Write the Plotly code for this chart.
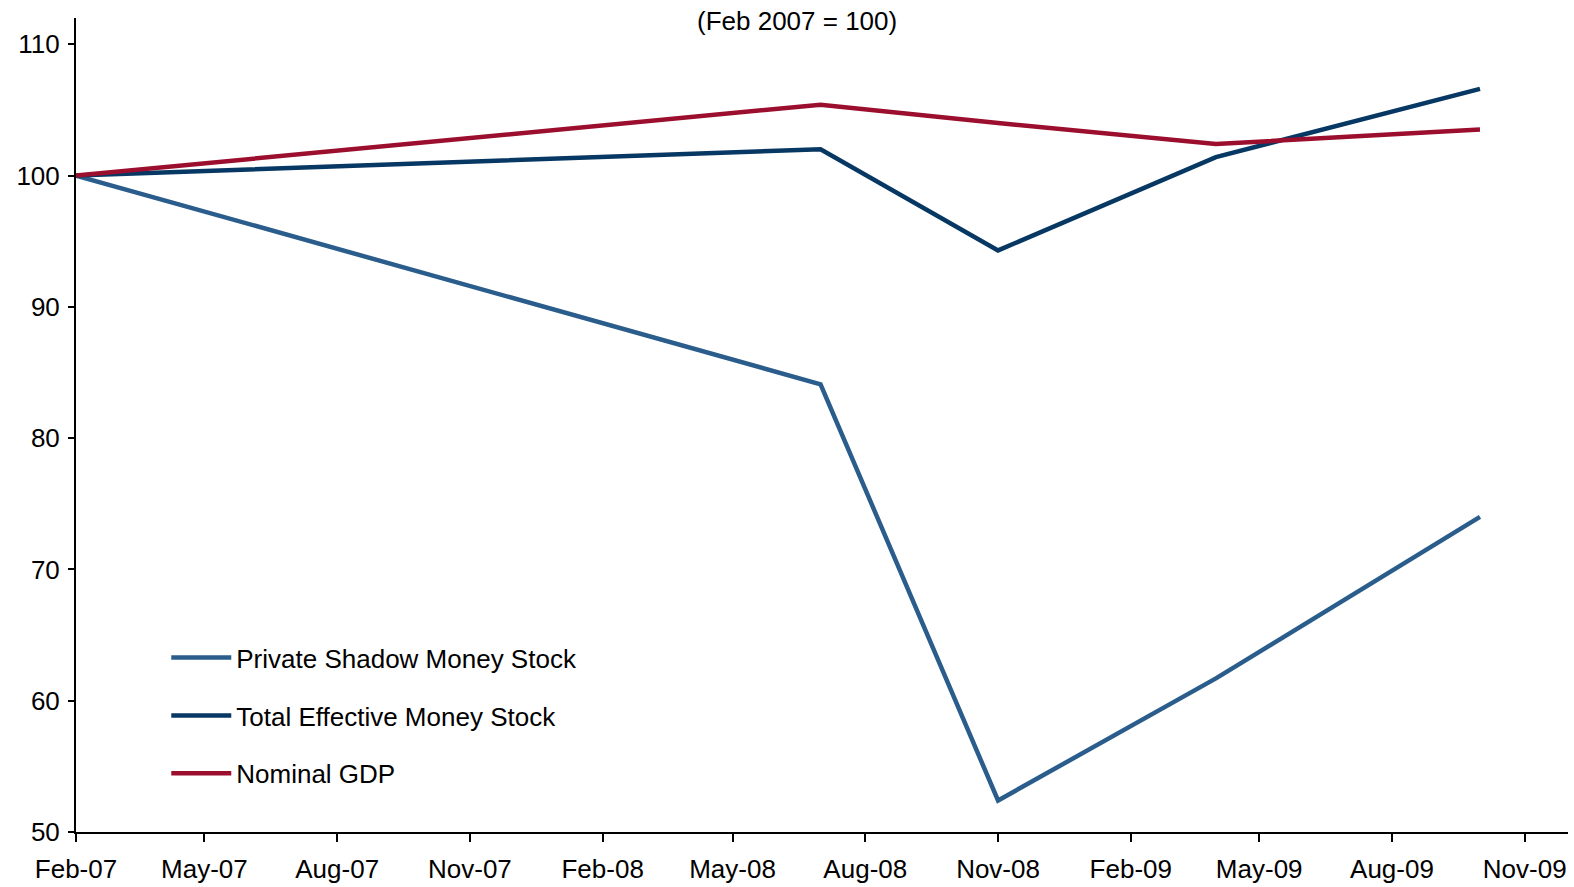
import plotly.graph_objects as go

dates = ["2007-02-01", "2008-07-01", "2008-11-01", "2009-04-01", "2009-10-01"]
private_shadow = [100, 84.1, 52.4, 61.7, 74.0]
total_effective = [100, 102.0, 94.3, 101.4, 106.6]
nominal_gdp = [100, 105.4, 104.0, 102.4, 103.5]

series = [
    ("Private Shadow Money Stock", private_shadow, "#2A5D8C"),
    ("Total Effective Money Stock", total_effective, "#073763"),
    ("Nominal GDP", nominal_gdp, "#9B0E2E"),
]

FONT = "Liberation Sans, Arial, sans-serif"
FS = 26

fig = go.Figure()
for i, (name, vals, color) in enumerate(series):
    fig.add_trace(go.Scatter(
        x=dates, y=vals, name=name, mode="lines",
        line=dict(color=color, width=4.5),
        legendgroup=f"g{i}",
    ))

fig.update_layout(
    width=1574, height=887,
    margin=dict(l=76, r=6, t=18, b=55),
    paper_bgcolor="white", plot_bgcolor="white",
    font=dict(family=FONT, size=FS, color="black"),
    showlegend=True,
    legend=dict(
        x=0.0605, y=0.243, xanchor="left", yanchor="top",
        traceorder="grouped", tracegroupgap=21,
        bgcolor="rgba(0,0,0,0)",
        font=dict(family=FONT, size=FS, color="black"),
        itemwidth=60,
    ),
    xaxis=dict(
        type="date", automargin=False,
        range=["2007-02-01", "2009-12-01"],
        tick0="2007-02-01", dtick="M3", tickformat="%b-%y",
        showgrid=False, zeroline=False,
        showline=True, linecolor="black", linewidth=2,
        ticks="outside", ticklen=8, tickwidth=2, tickcolor="black",
        ticklabelstandoff=5,
        tickfont=dict(family=FONT, size=FS, color="black"),
    ),
    yaxis=dict(
        range=[50, 112], automargin=False,
        tickvals=[50, 60, 70, 80, 90, 100, 110],
        showgrid=False, zeroline=False,
        showline=True, linecolor="black", linewidth=2,
        ticks="outside", ticklen=6, tickwidth=2, tickcolor="black",
        ticklabelstandoff=3,
        tickfont=dict(family=FONT, size=FS, color="black"),
    ),
    annotations=[dict(
        text="(Feb 2007 = 100)", xref="paper", yref="paper",
        x=0.4833, y=0.996, xanchor="center", yanchor="middle",
        showarrow=False, font=dict(family=FONT, size=FS, color="black"),
    )],
)

fig.write_html("out.html", config={"displayModeBar": False},
               post_script="document.body.style.margin='0';")
